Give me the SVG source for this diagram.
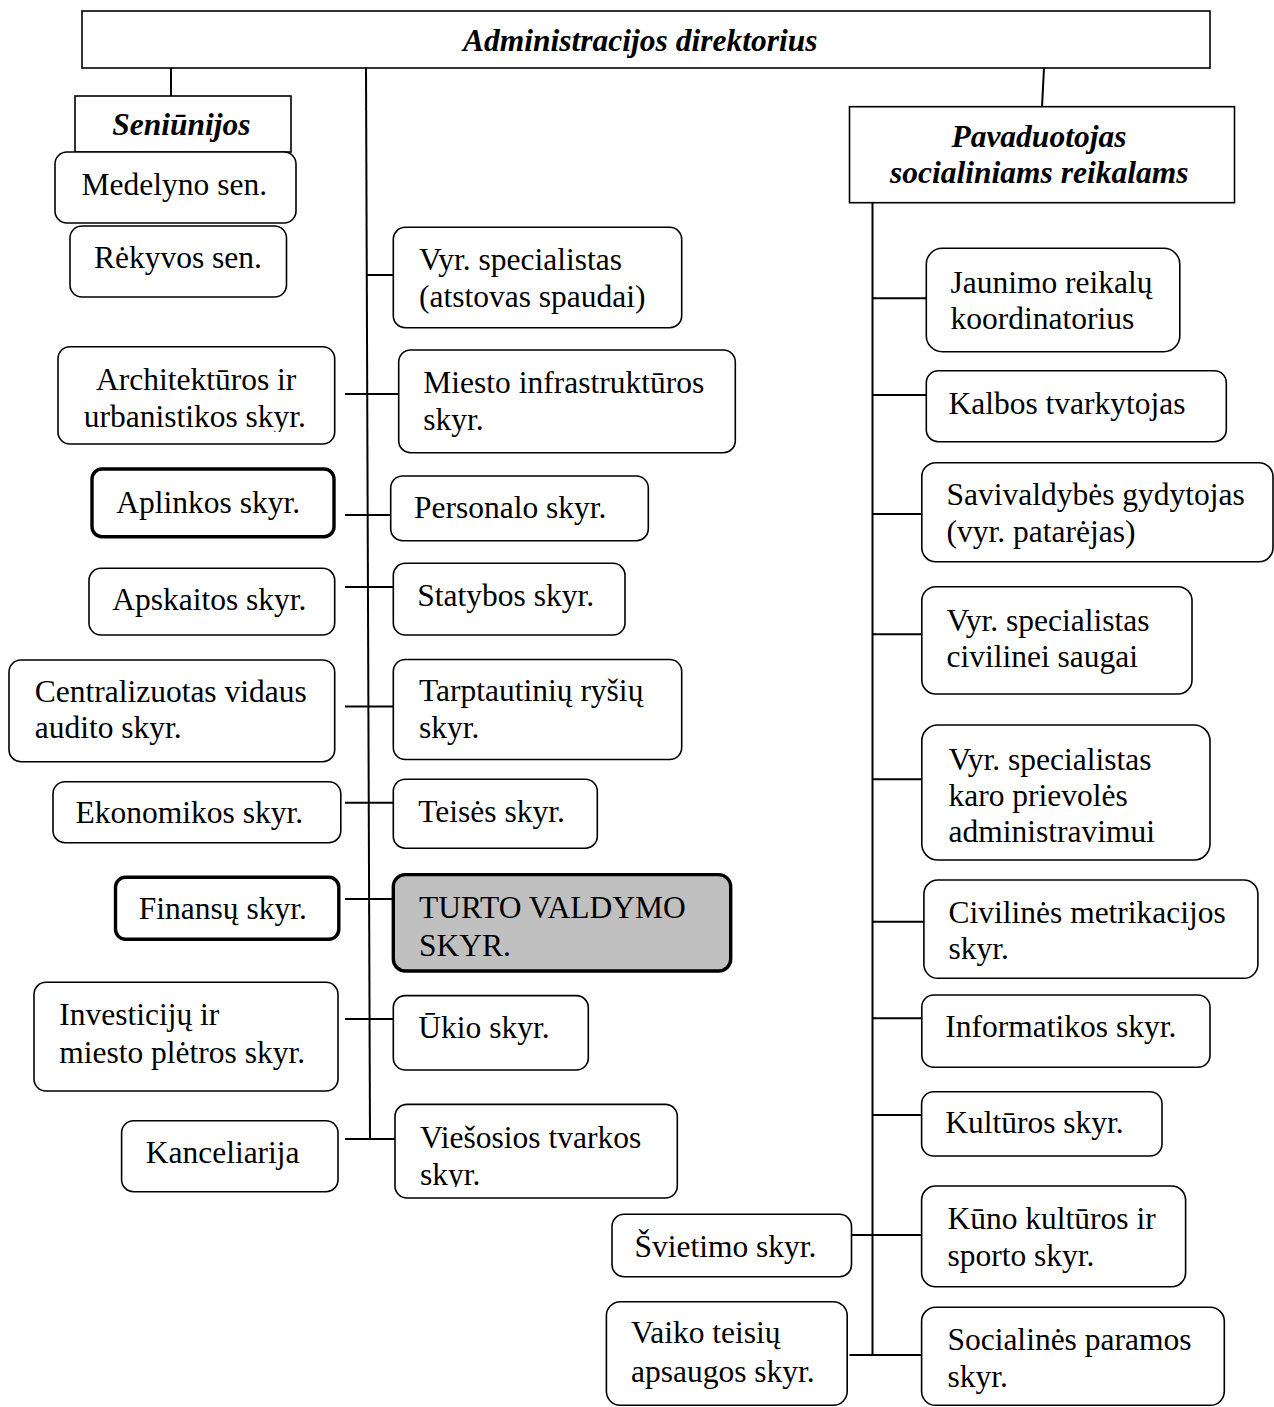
<svg xmlns="http://www.w3.org/2000/svg" width="1274" height="1407" viewBox="0 0 1274 1407">
<style>
.box{fill:#fff;stroke:#000;stroke-width:1.6}
.thick{stroke-width:3.4}
.grey{fill:#c0c0c0}
.t{font-family:"Liberation Serif","Times New Roman",serif;font-size:31.5px;fill:#000}
.bi{font-weight:bold;font-style:italic}
.c{stroke:#000;stroke-width:2;fill:none}
</style>
<defs>
<clipPath id="clipArch"><rect x="58" y="346" width="277" height="86"/></clipPath>
<clipPath id="clipVies"><rect x="395" y="1104" width="283" height="83"/></clipPath>
</defs>
<rect width="1274" height="1407" fill="#fff"/>
<g id="connectors">
<line class="c" x1="171" y1="68" x2="171" y2="96"/>
<line class="c" x1="366" y1="68" x2="370" y2="1139"/>
<line class="c" x1="1044" y1="68" x2="1042" y2="107"/>
<line class="c" x1="872.5" y1="203" x2="872.5" y2="1355"/>
<line class="c" x1="367" y1="275" x2="394" y2="275"/>
<line class="c" x1="345" y1="394" x2="399" y2="394"/>
<line class="c" x1="345" y1="515" x2="391" y2="515"/>
<line class="c" x1="345" y1="587" x2="394" y2="587"/>
<line class="c" x1="345" y1="706.5" x2="394" y2="706.5"/>
<line class="c" x1="345" y1="802.7" x2="394" y2="802.7"/>
<line class="c" x1="345" y1="899" x2="394" y2="899"/>
<line class="c" x1="345" y1="1019" x2="394" y2="1019"/>
<line class="c" x1="345" y1="1139" x2="395" y2="1139"/>
<line class="c" x1="872.5" y1="298.3" x2="926" y2="298.3"/>
<line class="c" x1="872.5" y1="395" x2="926" y2="395"/>
<line class="c" x1="872.5" y1="514" x2="922" y2="514"/>
<line class="c" x1="872.5" y1="634.3" x2="922" y2="634.3"/>
<line class="c" x1="872.5" y1="779.3" x2="922" y2="779.3"/>
<line class="c" x1="872.5" y1="921.7" x2="924" y2="921.7"/>
<line class="c" x1="872.5" y1="1018.3" x2="922" y2="1018.3"/>
<line class="c" x1="872.5" y1="1115" x2="922" y2="1115"/>
<line class="c" x1="849.5" y1="1235" x2="922" y2="1235"/>
<line class="c" x1="849.5" y1="1355" x2="922" y2="1355"/>
</g>
<g id="n-direktorius">
<rect class="box" x="82" y="11" width="1128" height="57"/>
<text class="t bi" x="463" y="50.5">Administracijos direktorius</text>
</g>
<g id="n-seniunijos">
<rect class="box" x="75" y="96" width="216" height="56"/>
<text class="t bi" x="112.2" y="135">Seniūnijos</text>
</g>
<g id="n-medelyno">
<rect class="box" x="55" y="152" width="241" height="71" rx="12"/>
<text class="t" x="81.6" y="195">Medelyno sen.</text>
</g>
<g id="n-rekyvos">
<rect class="box" x="70" y="226" width="216.5" height="71" rx="12"/>
<text class="t" x="93.9" y="268">Rėkyvos sen.</text>
</g>
<g id="n-architekturos">
<rect class="box" x="58" y="346.7" width="276.7" height="97.3" rx="12"/>
<g clip-path="url(#clipArch)">
<text class="t" x="96" y="390">Architektūros ir</text>
<text class="t" x="83.7" y="426.7">urbanistikos skyr.</text>
</g>
</g>
<g id="n-aplinkos">
<rect class="box thick" x="92" y="469" width="242" height="67.7" rx="10"/>
<text class="t" x="116.3" y="512.7">Aplinkos skyr.</text>
</g>
<g id="n-apskaitos">
<rect class="box" x="89" y="568.3" width="245.7" height="66.7" rx="12"/>
<text class="t" x="112.2" y="610">Apskaitos skyr.</text>
</g>
<g id="n-centralizuotas">
<rect class="box" x="9" y="660" width="325.7" height="101.7" rx="12"/>
<text class="t" x="34.7" y="701.7">Centralizuotas vidaus</text>
<text class="t" x="34.7" y="738.3">audito skyr.</text>
</g>
<g id="n-ekonomikos">
<rect class="box" x="53" y="781.7" width="287.8" height="61" rx="12"/>
<text class="t" x="75.5" y="823.3">Ekonomikos skyr.</text>
</g>
<g id="n-finansu">
<rect class="box thick" x="115.5" y="877.3" width="223.3" height="62" rx="10"/>
<text class="t" x="138.8" y="919.3">Finansų skyr.</text>
</g>
<g id="n-investiciju">
<rect class="box" x="34" y="982.3" width="304" height="108.7" rx="12"/>
<text class="t" x="59.2" y="1025">Investicijų ir</text>
<text class="t" x="59.2" y="1063.3">miesto plėtros skyr.</text>
</g>
<g id="n-kanceliarija">
<rect class="box" x="121.6" y="1120.7" width="216.4" height="71" rx="12"/>
<text class="t" x="145.7" y="1163.3">Kanceliarija</text>
</g>
<g id="n-vyr-spaudai">
<rect class="box" x="393.3" y="227.3" width="288.4" height="100.4" rx="12"/>
<text class="t" x="419" y="270">Vyr. specialistas</text>
<text class="t" x="419" y="306.7">(atstovas spaudai)</text>
</g>
<g id="n-miesto">
<rect class="box" x="398.7" y="350" width="336.6" height="102.7" rx="12"/>
<text class="t" x="423.3" y="393.3">Miesto infrastruktūros</text>
<text class="t" x="423.3" y="430">skyr.</text>
</g>
<g id="n-personalo">
<rect class="box" x="390.7" y="476" width="257.6" height="64.7" rx="12"/>
<text class="t" x="414" y="518.3">Personalo skyr.</text>
</g>
<g id="n-statybos">
<rect class="box" x="393.3" y="563.3" width="231.7" height="71.7" rx="12"/>
<text class="t" x="417.3" y="606">Statybos skyr.</text>
</g>
<g id="n-tarptautiniu">
<rect class="box" x="393.3" y="659.5" width="288.4" height="100" rx="12"/>
<text class="t" x="419" y="700.9">Tarptautinių ryšių</text>
<text class="t" x="419" y="738.4">skyr.</text>
</g>
<g id="n-teises">
<rect class="box" x="393.3" y="779.2" width="204" height="69" rx="12"/>
<text class="t" x="418.3" y="822">Teisės skyr.</text>
</g>
<g id="n-turto">
<rect class="box thick grey" x="393.3" y="874.6" width="337.4" height="96.4" rx="12"/>
<text class="t" x="419" y="918.4">TURTO VALDYMO</text>
<text class="t" x="419" y="956">SKYR.</text>
</g>
<g id="n-ukio">
<rect class="box" x="393.3" y="995.6" width="195" height="74.4" rx="12"/>
<text class="t" x="418.3" y="1037.7">Ūkio skyr.</text>
</g>
<g id="n-viesosios">
<rect class="box" x="395" y="1104.4" width="282.3" height="93.6" rx="12"/>
<g clip-path="url(#clipVies)">
<text class="t" x="420" y="1147.5">Viešosios tvarkos</text>
<text class="t" x="420" y="1185">skyr.</text>
</g>
</g>
<g id="n-pavaduotojas">
<rect class="box" x="849.5" y="106.7" width="385" height="96" />
<text class="t bi" x="951.4" y="146.7">Pavaduotojas</text>
<text class="t bi" x="890" y="183.3">socialiniams reikalams</text>
</g>
<g id="n-jaunimo">
<rect class="box" x="926.3" y="248.3" width="253.5" height="103.4" rx="16"/>
<text class="t" x="950.5" y="293.3">Jaunimo reikalų</text>
<text class="t" x="950.5" y="329">koordinatorius</text>
</g>
<g id="n-kalbos">
<rect class="box" x="926.3" y="370.7" width="300" height="71" rx="12"/>
<text class="t" x="948.5" y="414.3">Kalbos tvarkytojas</text>
</g>
<g id="n-savivaldybes">
<rect class="box" x="921.8" y="462.7" width="351.2" height="99" rx="14"/>
<text class="t" x="946.5" y="505">Savivaldybės gydytojas</text>
<text class="t" x="946.5" y="541.7">(vyr. patarėjas)</text>
</g>
<g id="n-civiline-sauga">
<rect class="box" x="921.8" y="586.7" width="270.2" height="107.3" rx="14"/>
<text class="t" x="946.5" y="630.7">Vyr. specialistas</text>
<text class="t" x="946.5" y="666.7">civilinei saugai</text>
</g>
<g id="n-karo">
<rect class="box" x="921.8" y="725" width="288.2" height="135" rx="16"/>
<text class="t" x="948.5" y="770">Vyr. specialistas</text>
<text class="t" x="948.5" y="806">karo prievolės</text>
<text class="t" x="948.5" y="841.7">administravimui</text>
</g>
<g id="n-metrikacijos">
<rect class="box" x="923.9" y="880" width="334" height="98.3" rx="14"/>
<text class="t" x="948.5" y="922.7">Civilinės metrikacijos</text>
<text class="t" x="948.5" y="959.3">skyr.</text>
</g>
<g id="n-informatikos">
<rect class="box" x="921.8" y="995" width="288.2" height="72.3" rx="12"/>
<text class="t" x="945.3" y="1036.7">Informatikos skyr.</text>
</g>
<g id="n-kulturos">
<rect class="box" x="921.6" y="1091.7" width="240.4" height="64.3" rx="12"/>
<text class="t" x="945.2" y="1133.3">Kultūros skyr.</text>
</g>
<g id="n-kuno">
<rect class="box" x="921.6" y="1186" width="264" height="100.7" rx="14"/>
<text class="t" x="947.4" y="1229.3">Kūno kultūros ir</text>
<text class="t" x="947.4" y="1266">sporto skyr.</text>
</g>
<g id="n-svietimo">
<rect class="box" x="612" y="1214.3" width="239.5" height="62.4" rx="12"/>
<text class="t" x="634.4" y="1256.7">Švietimo skyr.</text>
</g>
<g id="n-socialines">
<rect class="box" x="921.6" y="1307.3" width="302.7" height="98" rx="14"/>
<text class="t" x="947.4" y="1350">Socialinės paramos</text>
<text class="t" x="947.4" y="1387.3">skyr.</text>
</g>
<g id="n-vaiko">
<rect class="box" x="606.4" y="1301.7" width="240.8" height="103.6" rx="14"/>
<text class="t" x="631" y="1343.3">Vaiko teisių</text>
<text class="t" x="631" y="1381.7">apsaugos skyr.</text>
</g>
</svg>
